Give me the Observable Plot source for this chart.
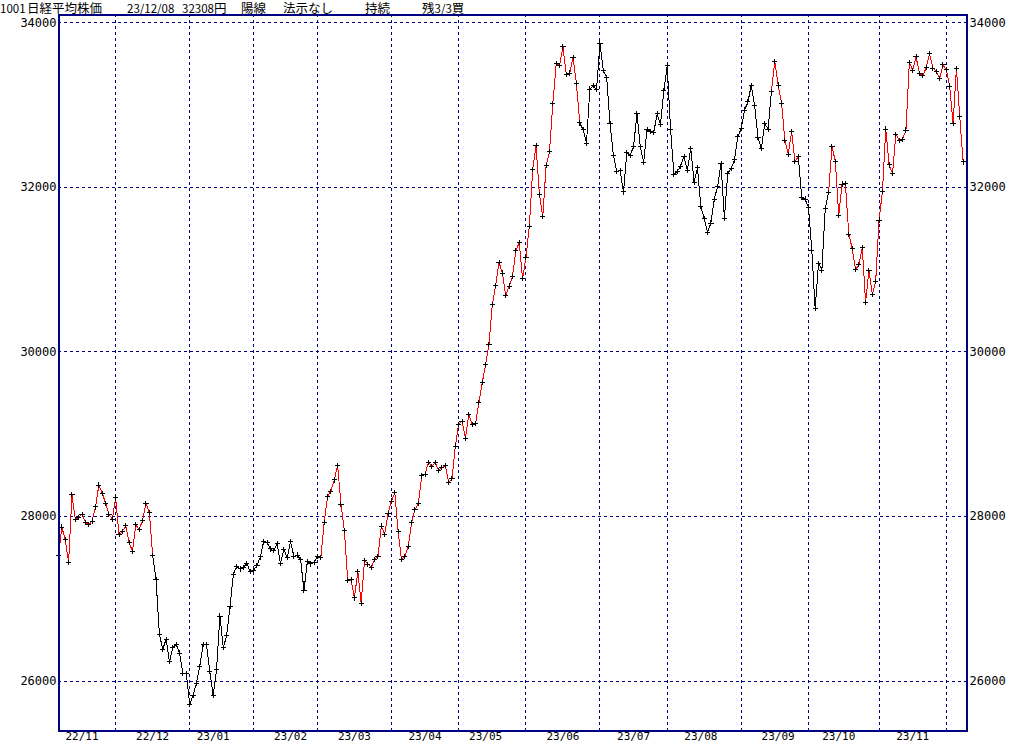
<!DOCTYPE html>
<html><head><meta charset="utf-8">
<script src="https://cdn.jsdelivr.net/npm/d3@7"></script>
<script src="https://cdn.jsdelivr.net/npm/@observablehq/plot@0.6"></script>
<style>
html,body{margin:0;padding:0;background:#fff;width:1024px;height:745px;overflow:hidden;}
#wrap{position:relative;width:1024px;height:745px;}
#chart{position:absolute;left:0;top:0;}
#title{position:absolute;left:0;top:0;height:14px;width:1024px;font-family:"Noto Sans CJK JP",sans-serif;font-size:12.5px;line-height:13px;color:#000;white-space:pre;}
#title > span{position:absolute;top:1px;}
#title span.a{font-size:11.5px;}
</style></head><body>
<div id="wrap"><div id="chart"></div><div id="title"></div></div>
<script>
// Daily closes (Nikkei 225), one array per month
const nov22 = [27528,27872,27716,27446,28264,27963,27990,28028,27931,27900,27945,28116,28383,28283,28163,28028,27969];
const dec22 = [28226,27778,27820,27886,27686,27574,27901,27842,27955,28156,28052,27527,27238,26568,26388,26508,26235,26406,26448,26341,26094,26095];
const jan23 = [25717,25821,25974,26176,26446,26450,26120,25822,26139,26791,26405,26554,26906,27299,27395,27363,27383,27433,27327];
const feb23 = [27347,27402,27509,27694,27685,27606,27584,27671,27427,27603,27502,27696,27513,27532,27473,27104,27453,27424,27446];
const mar23 = [27517,27499,27927,28238,28309,28444,28623,28144,27833,27222,27229,27011,27334,26946,27467,27420,27385,27477,27518,27884,27783,28041];
const apr23 = [28188,28287,27813,27473,27518,27634,27923,28083,28157,28493,28515,28659,28607,28658,28564,28594,28620,28416,28458,28856];
const may23 = [29123,29158,28950,29243,29122,29127,29388,29626,29843,30094,30574,30808,31087,30958,30683,30801,30916,31234,31328,30888];
const jun23 = [31148,31524,32217,32507,31914,31641,32265,32434,33019,33502,33485,33706,33370,33389,33575,33265,32782,32699,32538,33194,33234,33189];
const jul23 = [33753,33423,33339,32773,32388,32190,32204,31944,32419,32391,32494,32896,32491,32304,32701,32683,32668,32891,32759,33172];
const aug23 = [33477,32708,32159,32193,32255,32377,32204,32474,32060,32239,31767,31626,31451,31566,31857,32010,32287,31624,32170,32227,32333,32619];
const sep23 = [32711,32939,33037,33241,32991,32607,32468,32776,32707,33168,33533,33243,33024,32571,32402,32679,32315,32372,31873,31858];
const oct23 = [31760,31238,30527,31075,30995,31747,31937,32495,32316,31659,32040,32042,31431,31259,31000,31062,31270,30602,30992,30697,30859];
const nov23 = [31602,31950,32708,32272,32166,32646,32568,32585,32696,33520,33424,33585,33388,33354,33452,33626,33448,33408,33321,33487];
const dec23 = [33432,33231,32776,33446,32858,32308];

const monthLabels = ["22/11","22/12","23/01","23/02","23/03","23/04","23/05","23/06","23/07","23/08","23/09","23/10","23/11"];
// trading-day index where each month label sits (around the 16th)
const labelTick = [7,28,46,69,88,109,127,150,171,191,214,232,254];
const yTicks = [26000,28000,30000,32000,34000];
// signal periods (trading-day index ranges) drawn in red
const redFrom = [0,78,212,229];
const redTo   = [28,155,220,269];

const titleParts = ["1001","日経平均株価","23/12/08","32308円","陽線","法示なし","持続","残3/3買"];
const titleX = [0,27,127,182,241,283,365,422];

const months = [nov22,dec22,jan23,feb23,mar23,apr23,may23,jun23,jul23,aug23,sep23,oct23,nov23,dec23];
const closes = [].concat(...months);
const starts = []; let acc = 0;
for (const m of months) { starts.push(acc); acc += m.length; }
const gridX = starts.slice(1);

const pts = closes.map((v, i) => ({i, v}));
const segs = [];
for (let i = 1; i < closes.length; i++) {
  const red = redFrom.some((f, k) => i - 1 >= f && i <= redTo[k]);
  segs.push({x1: i - 1, y1: closes[i - 1], x2: i, y2: closes[i], c: red ? "#ff0000" : "#000000"});
}

const NAVY = "#000080";
const chart = Plot.plot({
  width: 1024, height: 745,
  marginLeft: 58, marginRight: 58, marginTop: 14, marginBottom: 15,
  style: {background: "#fff", fontFamily: "'DejaVu Sans Mono', monospace", fontSize: "12px", color: "#000"},
  x: {domain: [0, 270]},
  y: {domain: [25400, 34100]},
  marks: [
    Plot.ruleY(yTicks, {stroke: NAVY, strokeDasharray: "3,3", shapeRendering: "crispEdges"}),
    Plot.ruleX(gridX, {stroke: NAVY, strokeDasharray: "3,3", shapeRendering: "crispEdges"}),
    Plot.link(segs, {x1: "x1", y1: "y1", x2: "x2", y2: "y2", stroke: "c", strokeWidth: 1, shapeRendering: "crispEdges"}),
    Plot.dot(pts, {x: "i", y: "v", symbol: "plus", r: 1.8, stroke: "#000", fill: "none", strokeWidth: 1, shapeRendering: "crispEdges"}),
    Plot.frame({stroke: NAVY, strokeWidth: 2, shapeRendering: "crispEdges"}),
    Plot.axisY(yTicks, {anchor: "left", tickSize: 0, tickPadding: 2, tickFormat: d => String(d), fontSize: 12}),
    Plot.axisY(yTicks, {anchor: "right", tickSize: 0, tickPadding: 3, tickFormat: d => String(d), fontSize: 12}),
    Plot.axisX(labelTick, {anchor: "bottom", tickSize: 0, tickPadding: 2, tickFormat: d => monthLabels[labelTick.indexOf(d)], fontSize: 11})
  ]
});
document.getElementById("chart").appendChild(chart);

const t = document.getElementById("title");
titleParts.forEach((s, k) => {
  const sp = document.createElement("span");
  sp.style.left = titleX[k] + "px";
  // Latin digits/slashes narrower than the CJK characters
  s.split(/([0-9\/]+)/).forEach(part => {
    if (!part) return;
    if (/^[0-9\/]+$/.test(part)) {
      const a = document.createElement("span");
      a.className = "a";
      a.textContent = part;
      sp.appendChild(a);
    } else {
      sp.appendChild(document.createTextNode(part));
    }
  });
  t.appendChild(sp);
});
</script>
</body></html>
